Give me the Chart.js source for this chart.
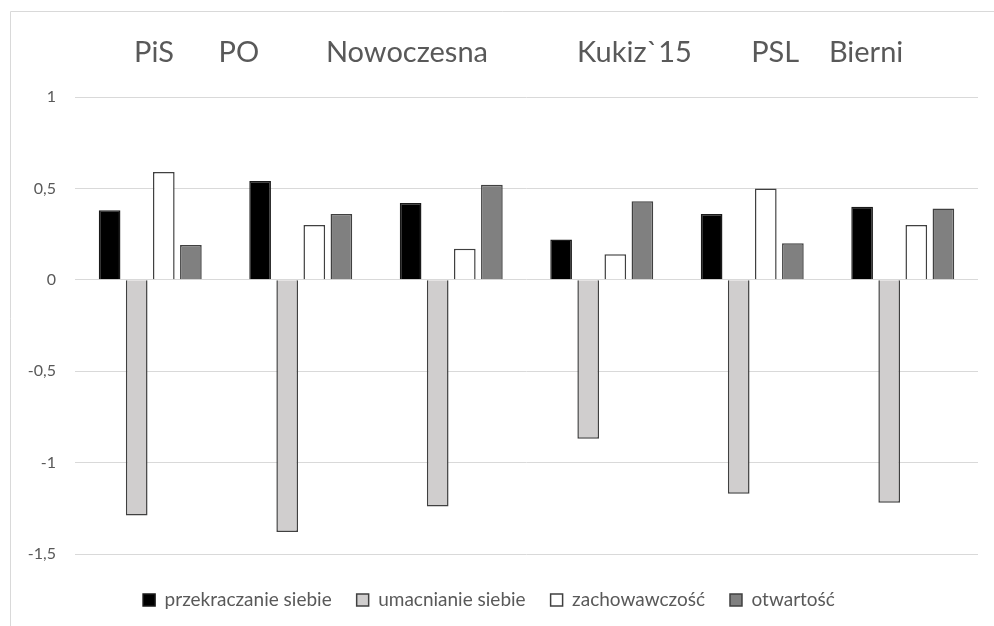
<!DOCTYPE html>
<html>
<head>
<meta charset="utf-8">
<script src="https://cdn.jsdelivr.net/npm/chart.js@4"></script>
<style>
html,body{margin:0;padding:0;background:#fff;}
#wrap{width:994px;height:626px;position:relative;}
</style>
</head>
<body>
<div id="wrap"><canvas id="c" width="994" height="626"></canvas></div>
<script>
const categories = ["PiS", "PO", "Nowoczesna", "Kukiz`15", "PSL", "Bierni"];
const seriesNames = ["przekraczanie siebie", "umacnianie siebie", "zachowawczość", "otwartość"];
const przekraczanie = [0.38, 0.54, 0.42, 0.22, 0.36, 0.40];
const umacnianie = [-1.29, -1.38, -1.24, -0.87, -1.17, -1.22];
const zachowawczosc = [0.59, 0.30, 0.17, 0.14, 0.50, 0.30];
const otwartosc = [0.19, 0.36, 0.52, 0.43, 0.20, 0.39];
const yTicks = [1, 0.5, 0, -0.5, -1, -1.5];
const headerText = "        PiS      PO         Nowoczesna            Kukiz`15        PSL    Bierni";

const frame = {
  id: 'frame',
  beforeDraw(chart) {
    const ctx = chart.ctx;
    ctx.save();
    ctx.strokeStyle = '#d9d9d9';
    ctx.lineWidth = 1;
    ctx.beginPath();
    ctx.moveTo(10.5, 626);
    ctx.lineTo(10.5, 11.5);
    ctx.lineTo(994, 11.5);
    ctx.stroke();
    ctx.restore();
  }
};

const fills = ['#000000', '#d0cece', '#ffffff', '#808080'];
const borders = ['#1a1a1a', '#404040', '#404040', '#404040'];
const values = [przekraczanie, umacnianie, zachowawczosc, otwartosc];

new Chart(document.getElementById('c'), {
  type: 'bar',
  data: {
    labels: categories,
    datasets: seriesNames.map((n, i) => ({
      label: n,
      data: values[i],
      backgroundColor: fills[i],
      borderColor: borders[i],
      borderWidth: 1.5,
      categoryPercentage: 0.72,
      barPercentage: 0.8
    }))
  },
  options: {
    responsive: false,
    animation: false,
    layout: { padding: { left: 0, right: 16, top: 0, bottom: 6.5 } },
    plugins: {
      title: {
        display: true,
        text: headerText,
        color: '#595959',
        font: { family: 'Lato', size: 29, weight: 'normal' },
        padding: { top: 35, bottom: 27.2 }
      },
      legend: {
        position: 'bottom',
        labels: {
          color: '#595959',
          font: { family: 'Lato', size: 19 },
          boxWidth: 12,
          boxHeight: 12,
          padding: 25
        }
      },
      tooltip: { enabled: false }
    },
    scales: {
      x: {
        display: true,
        grid: { display: false, drawTicks: false },
        border: { display: false },
        ticks: { display: false },
        afterFit(s) { s.height = 11.5; }
      },
      y: {
        min: -1.5,
        max: 1,
        afterBuildTicks(s) { s.ticks = yTicks.map(v => ({ value: v })); },
        afterFit(s) { s.width = 75; },
        grid: { color: '#d9d9d9', lineWidth: 1, drawTicks: false },
        border: { display: false },
        ticks: {
          color: '#595959',
          font: { family: 'Lato', size: 16 },
          padding: 19,
          callback: v => String(v).replace('.', ',')
        }
      }
    }
  },
  plugins: [frame]
});
</script>
</body>
</html>
